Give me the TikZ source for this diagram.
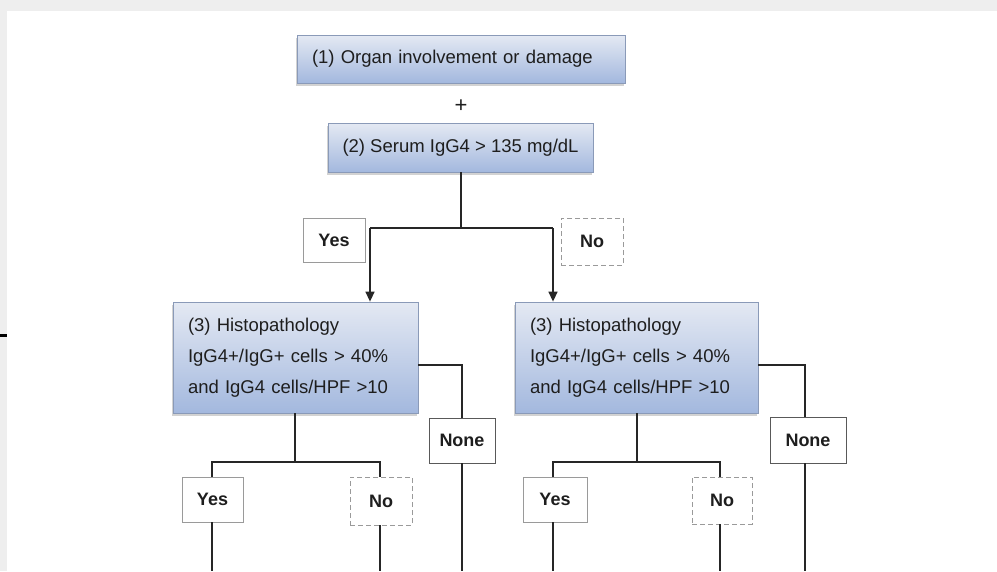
\documentclass[tikz,border=0pt]{standalone}
\usepackage{fontspec}
\setmainfont{Liberation Sans}
\usetikzlibrary{arrows.meta,shadows}
\definecolor{txt}{HTML}{1E1E1E}
\definecolor{boxtop}{HTML}{E4E9F3}
\definecolor{boxbot}{HTML}{A3B8DE}
\definecolor{boxedge}{HTML}{8A9AB8}
\definecolor{lbl}{HTML}{9A9A9A}
\definecolor{strip}{HTML}{EEEEEE}
\tikzset{
  bluebox/.style={draw=boxedge, line width=0.8pt, top color=boxtop, bottom color=boxbot,
    drop shadow={shadow xshift=-1.5pt, shadow yshift=-3pt, opacity=0.35, fill=gray},
    text=txt, inner sep=0pt, font=\fontsize{18.5}{31}\selectfont},
  ansbox/.style={draw=lbl, line width=0.9pt, fill=white, text=txt, inner sep=0pt,
    font=\fontsize{18}{22}\selectfont\bfseries},
  nobox/.style={ansbox, dashed, dash pattern=on 5pt off 3pt},
  nonebox/.style={ansbox, draw=black!65},
  conn/.style={draw=black!85, line width=1.4pt},
  arr/.style={conn, -{Triangle[length=10pt,width=9pt]}}
}
\begin{document}
\begin{tikzpicture}[x=1pt,y=-1pt]
\useasboundingbox (0,0) rectangle (997,571);
\fill[white] (0,0) rectangle (997,571);
\fill[strip] (0,0) rectangle (997,11);
\fill[strip] (0,0) rectangle (7,571);
\fill[black] (0,334) rectangle (7,336.5);

% top boxes
\node[bluebox, minimum width=328pt, minimum height=48pt, text width=298pt, align=left] (b1) at (461,59) {(1) Organ involvement or damage};
\node[text=txt, font=\fontsize{22}{24}\selectfont] (plus) at (461,106) {+};
\node[bluebox, minimum width=265pt, minimum height=49pt] (b2) at (460.5,147.5) {(2) Serum IgG4 > 135 mg/dL};

\node[ansbox, minimum width=62pt, minimum height=44pt] (yes1) at (334,240) {Yes};
\node[nobox, minimum width=62pt, minimum height=47pt] (no1) at (592,241.5) {No};

% histopathology boxes
\node[bluebox, minimum width=245pt, minimum height=111pt, align=left, text width=215pt] (b3l) at (295.5,357.5)
  {(3) Histopathology\\IgG4+/IgG+ cells > 40\%\\and IgG4 cells/HPF >10};
\node[bluebox, minimum width=243pt, minimum height=111pt, align=left, text width=213pt] (b3r) at (636.5,357.5)
  {(3) Histopathology\\IgG4+/IgG+ cells > 40\%\\and IgG4 cells/HPF >10};

\node[nonebox, minimum width=66pt, minimum height=45pt] (nonel) at (462,440.5) {None};
\node[nonebox, minimum width=76pt, minimum height=46pt] (noner) at (808,440) {None};

\node[ansbox, minimum width=61pt, minimum height=45pt] (yesl) at (212.5,499.5) {Yes};
\node[nobox, minimum width=62pt, minimum height=48pt] (nol) at (381,501) {No};
\node[ansbox, minimum width=64pt, minimum height=45pt] (yesr) at (555,499.5) {Yes};
\node[nobox, minimum width=60pt, minimum height=47pt] (nor) at (722,500.5) {No};

% junction coordinates
\coordinate (j1) at (461,228);
\coordinate (a1) at (370,228);
\coordinate (a2) at (553,228);
\coordinate (jl) at (295,462);
\coordinate (jlA) at (212,462);
\coordinate (jlB) at (380,462);
\coordinate (jr) at (637,462);
\coordinate (jrA) at (553,462);
\coordinate (jrB) at (720,462);
\coordinate (e1) at (212,571);
\coordinate (e2) at (380,571);
\coordinate (e3) at (462,571);
\coordinate (e4) at (553,571);
\coordinate (e5) at (720,571);
\coordinate (e6) at (805,571);

\draw[conn] (j1 |- b2.south) -- (j1);
\draw[conn] (a1) -- (a2);
\draw[arr] (a1) -- (a1 |- b3l.north);
\draw[arr] (a2) -- (a2 |- b3r.north);

\draw[conn] ([yshift=-7.5pt]b3l.east) -| (nonel.north);
\draw[conn] (nonel.south) -- (e3);
\draw[conn] ([yshift=-7.5pt]b3r.east) -| (e6 |- noner.north);
\draw[conn] (e6 |- noner.south) -- (e6);

\draw[conn] (jl |- b3l.south) -- (jl);
\draw[conn] (jlA |- yesl.north) -- (jlA) -- (jlB) -- (jlB |- nol.north);
\draw[conn] (jr |- b3r.south) -- (jr);
\draw[conn] (jrA |- yesr.north) -- (jrA) -- (jrB) -- (jrB |- nor.north);

\draw[conn] (e1 |- yesl.south) -- (e1);
\draw[conn] (e2 |- nol.south) -- (e2);
\draw[conn] (e4 |- yesr.south) -- (e4);
\draw[conn] (e5 |- nor.south) -- (e5);
\end{tikzpicture}
\end{document}
